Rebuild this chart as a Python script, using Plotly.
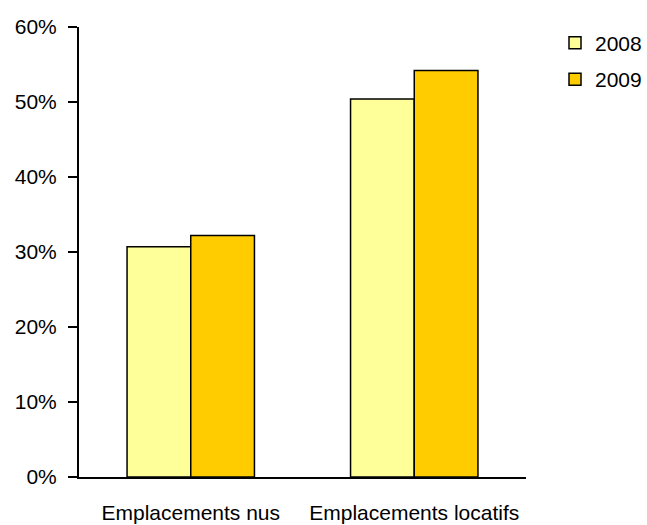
import plotly.graph_objects as go

categories = ["Emplacements nus", "Emplacements locatifs"]
series_names = ["2008", "2009"]
values_2008 = [30.7, 50.4]
values_2009 = [32.2, 54.2]
y_ticks = [0, 10, 20, 30, 40, 50, 60]
y_tick_labels = ["0%", "10%", "20%", "30%", "40%", "50%", "60%"]

colors = ["#FFFF99", "#FFCC00"]
FONT = "Liberation Sans, Arial, sans-serif"

fig = go.Figure()
for name, vals, col in zip(series_names, [values_2008, values_2009], colors):
    fig.add_trace(go.Bar(
        x=categories, y=vals, name=name, legendgroup=name,
        marker=dict(color=col, line=dict(color="black", width=1.5)),
    ))

fig.update_layout(
    width=647, height=525,
    margin=dict(l=79, r=121, t=27, b=48, autoexpand=False),
    paper_bgcolor="white", plot_bgcolor="white",
    font=dict(family=FONT, size=21, color="black"),
    barmode="group", bargap=0.43, bargroupgap=0,
    showlegend=True,
    legend=dict(xref="container", yref="container",
                x=1.0, y=0.9568, xanchor="right", yanchor="top",
                traceorder="grouped", tracegroupgap=6,
                font=dict(size=21), bgcolor="rgba(0,0,0,0)"),
    xaxis=dict(showline=True, linecolor="black", linewidth=2, ticks="",
               ticklabelstandoff=16, showgrid=False, zeroline=False,
               automargin=False),
    yaxis=dict(range=[0, 60], tickvals=y_ticks, ticktext=y_tick_labels,
               showline=True, linecolor="black", linewidth=2,
               ticks="outside", ticklen=9, tickwidth=2, tickcolor="black",
               ticklabelstandoff=7, automargin=False,
               showgrid=False, zeroline=False),
)

# remove the page's default 8px body margin so the figure fills the window
fig.write_html(
    "out.html",
    config={"displayModeBar": False},
    post_script="document.body.style.margin='0';document.body.style.overflow='hidden';",
)
